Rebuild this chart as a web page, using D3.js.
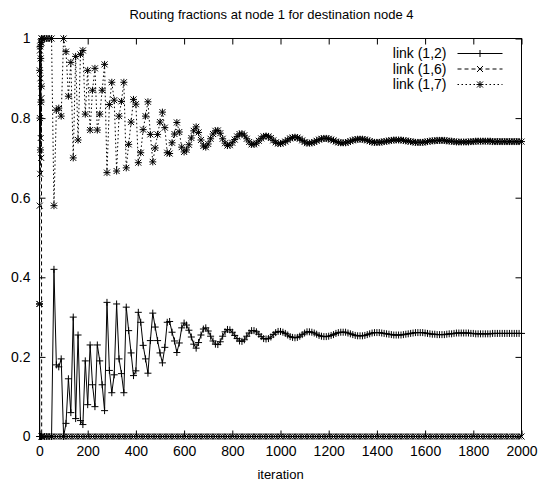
<!DOCTYPE html>
<html>
<head>
<meta charset="utf-8">
<script src="https://cdn.jsdelivr.net/npm/d3@7"></script>
<style>
  body { margin: 0; background: #fff; }
  text { font-family: "Liberation Sans", Arial, Helvetica, sans-serif; fill: #000; }
</style>
</head>
<body>
<div id="chart"></div>
<script>
const chartTitle = "Routing fractions at node 1 for destination node 4";
const xLabel = "iteration";
const seriesNames = ["link (1,2)", "link (1,6)", "link (1,7)"];
const xTicks = [0, 200, 400, 600, 800, 1000, 1200, 1400, 1600, 1800, 2000];
const yTicks = [0, 0.2, 0.4, 0.6, 0.8, 1];

const iterations = [
  0, 1, 2, 3, 4, 5, 6, 7, 8, 9,
  10, 20, 30, 40, 50, 60, 70, 80, 90, 100, 110, 120, 130, 140, 150, 160, 170, 180, 190, 200,
  210, 220, 230, 240, 250, 260, 270, 280, 290, 300, 310, 320, 330, 340, 350, 360, 370, 380, 390, 400,
  410, 420, 430, 440, 450, 460, 470, 480, 490, 500, 510, 520, 530, 540, 550, 560, 570, 580, 590, 600,
  610, 620, 630, 640, 650, 660, 670, 680, 690, 700, 710, 720, 730, 740, 750, 760, 770, 780, 790, 800,
  810, 820, 830, 840, 850, 860, 870, 880, 890, 900, 910, 920, 930, 940, 950, 960, 970, 980, 990, 1000,
  1010, 1020, 1030, 1040, 1050, 1060, 1070, 1080, 1090, 1100, 1110, 1120, 1130, 1140, 1150, 1160, 1170, 1180, 1190, 1200,
  1210, 1220, 1230, 1240, 1250, 1260, 1270, 1280, 1290, 1300, 1310, 1320, 1330, 1340, 1350, 1360, 1370, 1380, 1390, 1400,
  1410, 1420, 1430, 1440, 1450, 1460, 1470, 1480, 1490, 1500, 1510, 1520, 1530, 1540, 1550, 1560, 1570, 1580, 1590, 1600,
  1610, 1620, 1630, 1640, 1650, 1660, 1670, 1680, 1690, 1700, 1710, 1720, 1730, 1740, 1750, 1760, 1770, 1780, 1790, 1800,
  1810, 1820, 1830, 1840, 1850, 1860, 1870, 1880, 1890, 1900, 1910, 1920, 1930, 1940, 1950, 1960, 1970, 1980, 1990, 2000
];

const link12 = [
  0.333, 0, 0, 0, 0, 0, 0, 0, 0, 0,
  0, 0, 0, 0, 0, 0.42, 0.18, 0.175, 0.195, 0.0, 0.033, 0.145, 0.06, 0.30, 0.045, 0.255, 0.04, 0.03, 0.19, 0.08,
  0.23, 0.13, 0.075, 0.23, 0.19, 0.13, 0.065, 0.337, 0.166, 0.11, 0.155, 0.333, 0.195, 0.158, 0.11, 0.325, 0.266, 0.21, 0.153, 0.165,
  0.312, 0.287, 0.229, 0.195, 0.159, 0.241, 0.31, 0.275, 0.241, 0.21, 0.185, 0.224, 0.287, 0.289, 0.262, 0.24, 0.211, 0.235, 0.273, 0.285,
  0.28, 0.267, 0.25, 0.232, 0.222, 0.236, 0.255, 0.27, 0.273, 0.265, 0.252, 0.24, 0.232, 0.231, 0.238, 0.252, 0.263, 0.269, 0.268, 0.262,
  0.254, 0.246, 0.24, 0.239, 0.243, 0.252, 0.26, 0.266, 0.266, 0.263, 0.257, 0.251, 0.246, 0.245, 0.246, 0.25, 0.256, 0.261, 0.264, 0.264,
  0.262, 0.259, 0.255, 0.251, 0.249, 0.248, 0.249, 0.252, 0.256, 0.26, 0.263, 0.263, 0.262, 0.26, 0.257, 0.254, 0.252, 0.251, 0.251, 0.252,
  0.254, 0.256, 0.259, 0.261, 0.262, 0.262, 0.262, 0.26, 0.258, 0.256, 0.254, 0.253, 0.253, 0.253, 0.254, 0.256, 0.258, 0.26, 0.261, 0.261,
  0.261, 0.26, 0.259, 0.258, 0.257, 0.256, 0.255, 0.255, 0.255, 0.255, 0.256, 0.257, 0.258, 0.259, 0.26, 0.261, 0.261, 0.261, 0.261, 0.26,
  0.259, 0.258, 0.257, 0.257, 0.256, 0.256, 0.256, 0.256, 0.257, 0.258, 0.258, 0.259, 0.26, 0.26, 0.26, 0.26, 0.26, 0.26, 0.259, 0.259,
  0.258, 0.258, 0.258, 0.258, 0.258, 0.258, 0.258, 0.259, 0.259, 0.259, 0.259, 0.259, 0.259, 0.259, 0.259, 0.259, 0.259, 0.259, 0.259, 0.259
];

const link16 = [
  0.333, 0.58, 0.97, 0.66, 0.9, 0.75, 0.99, 0.7, 0.85, 0,
  0, 0, 0, 0, 0, 0, 0, 0, 0, 0, 0, 0, 0, 0, 0, 0, 0, 0, 0, 0,
  0, 0, 0, 0, 0, 0, 0, 0, 0, 0, 0, 0, 0, 0, 0, 0, 0, 0, 0, 0,
  0, 0, 0, 0, 0, 0, 0, 0, 0, 0, 0, 0, 0, 0, 0, 0, 0, 0, 0, 0,
  0, 0, 0, 0, 0, 0, 0, 0, 0, 0, 0, 0, 0, 0, 0, 0, 0, 0, 0, 0,
  0, 0, 0, 0, 0, 0, 0, 0, 0, 0, 0, 0, 0, 0, 0, 0, 0, 0, 0, 0,
  0, 0, 0, 0, 0, 0, 0, 0, 0, 0, 0, 0, 0, 0, 0, 0, 0, 0, 0, 0,
  0, 0, 0, 0, 0, 0, 0, 0, 0, 0, 0, 0, 0, 0, 0, 0, 0, 0, 0, 0,
  0, 0, 0, 0, 0, 0, 0, 0, 0, 0, 0, 0, 0, 0, 0, 0, 0, 0, 0, 0,
  0, 0, 0, 0, 0, 0, 0, 0, 0, 0, 0, 0, 0, 0, 0, 0, 0, 0, 0, 0,
  0, 0, 0, 0, 0, 0, 0, 0, 0, 0, 0, 0, 0, 0, 0, 0, 0, 0, 0, 0
];

const link17 = [
  0.333, 0.92, 0.8, 0.98, 0.72, 0.95, 0.84, 0.99, 0.88, 1.0,
  1.0, 1.0, 1.0, 1.0, 1.0, 0.58, 0.82, 0.825, 0.805, 1.0, 0.967, 0.855, 0.94, 0.70, 0.955, 0.745, 0.96, 0.97, 0.81, 0.92,
  0.77, 0.87, 0.925, 0.77, 0.81, 0.87, 0.935, 0.663, 0.834, 0.89, 0.845, 0.667, 0.805, 0.842, 0.89, 0.675, 0.734, 0.79, 0.847, 0.835,
  0.688, 0.713, 0.771, 0.805, 0.841, 0.759, 0.69, 0.725, 0.759, 0.79, 0.815, 0.776, 0.713, 0.711, 0.738, 0.76, 0.789, 0.765, 0.727, 0.715,
  0.72, 0.733, 0.75, 0.768, 0.778, 0.764, 0.745, 0.73, 0.727, 0.735, 0.748, 0.76, 0.768, 0.769, 0.762, 0.748, 0.737, 0.731, 0.732, 0.738,
  0.746, 0.754, 0.76, 0.761, 0.757, 0.748, 0.74, 0.734, 0.734, 0.737, 0.743, 0.749, 0.754, 0.755, 0.754, 0.75, 0.744, 0.739, 0.736, 0.736,
  0.738, 0.741, 0.745, 0.749, 0.751, 0.752, 0.751, 0.748, 0.744, 0.74, 0.737, 0.737, 0.738, 0.74, 0.743, 0.746, 0.748, 0.749, 0.749, 0.748,
  0.746, 0.744, 0.741, 0.739, 0.738, 0.738, 0.738, 0.74, 0.742, 0.744, 0.746, 0.747, 0.747, 0.747, 0.746, 0.744, 0.742, 0.74, 0.739, 0.739,
  0.739, 0.74, 0.741, 0.742, 0.743, 0.744, 0.745, 0.745, 0.745, 0.745, 0.744, 0.743, 0.742, 0.741, 0.74, 0.739, 0.739, 0.739, 0.739, 0.74,
  0.741, 0.742, 0.743, 0.743, 0.744, 0.744, 0.744, 0.744, 0.743, 0.742, 0.742, 0.741, 0.74, 0.74, 0.74, 0.74, 0.74, 0.74, 0.741, 0.741,
  0.742, 0.742, 0.742, 0.742, 0.742, 0.742, 0.742, 0.741, 0.741, 0.741, 0.741, 0.741, 0.741, 0.741, 0.741, 0.741, 0.741, 0.741, 0.741, 0.741
];

const W = 543, H = 483;
const margin = {top: 38.5, right: 21.5, bottom: 46.5, left: 39.5},
  width = W - margin.left - margin.right,
  height = H - margin.top - margin.bottom;

const svg = d3.select("#chart")
  .append("svg")
  .attr("width", W)
  .attr("height", H);

svg.append("text")
  .attr("x", 271.5)
  .attr("y", 19)
  .attr("text-anchor", "middle")
  .style("font-size", "13px")
  .text(chartTitle);

const g = svg.append("g")
  .attr("transform", `translate(${margin.left}, ${margin.top})`);

const x = d3.scaleLinear().domain([0, 2000]).range([0, width]);
const y = d3.scaleLinear().domain([0, 1]).range([height, 0]);

// tick marks on all four sides, pointing inward (gnuplot mirror style)
const tick = 6;
g.append("g").attr("transform", `translate(0, ${height})`)
  .call(d3.axisBottom(x).tickValues(xTicks).tickSize(-tick).tickSizeOuter(0).tickFormat(""));
g.append("g")
  .call(d3.axisTop(x).tickValues(xTicks).tickSize(-tick).tickSizeOuter(0).tickFormat(""));
g.append("g")
  .call(d3.axisLeft(y).tickValues(yTicks).tickSize(-tick).tickSizeOuter(0).tickFormat(""));
g.append("g").attr("transform", `translate(${width}, 0)`)
  .call(d3.axisRight(y).tickValues(yTicks).tickSize(-tick).tickSizeOuter(0).tickFormat(""));
g.selectAll(".domain").remove();
g.selectAll(".tick line").attr("stroke", "#000");

// tick labels
g.append("g").attr("transform", `translate(0, ${height})`)
  .call(d3.axisBottom(x).tickValues(xTicks).tickSize(0).tickPadding(10).tickFormat(d3.format("d")))
  .call(a => a.select(".domain").remove())
  .selectAll("text").style("font-size", "14px").attr("fill", "#000");
g.append("g")
  .call(d3.axisLeft(y).tickValues(yTicks).tickSize(0).tickPadding(9).tickFormat(d => d3.format("")(+d.toFixed(1))))
  .call(a => a.select(".domain").remove())
  .selectAll("text").style("font-size", "14px").attr("fill", "#000");

g.append("text")
  .attr("x", width / 2)
  .attr("y", height + 42)
  .attr("text-anchor", "middle")
  .style("font-size", "13px")
  .text(xLabel);

// frame
g.append("rect")
  .attr("width", width)
  .attr("height", height)
  .attr("fill", "none")
  .attr("stroke", "#000");

const marks = {
  plus: "M-3.5,0H3.5M0,-3.5V3.5",
  cross: "M-3,-3L3,3M-3,3L3,-3",
  star: "M-3.5,0H3.5M0,-3.5V3.5M-3,-3L3,3M-3,3L3,-3"
};

const series = [
  {name: seriesNames[0], values: link12, dash: null, mark: marks.plus},
  {name: seriesNames[1], values: link16, dash: "4,3", mark: marks.cross},
  {name: seriesNames[2], values: link17, dash: "1.5,2.5", mark: marks.star}
];

const line = d3.line()
  .x(d => x(d[0]))
  .y(d => y(d[1]));

series.forEach(s => {
  const pts = iterations.map((it, i) => [it, s.values[i]]);
  g.append("path")
    .datum(pts)
    .attr("fill", "none")
    .attr("stroke", "#000")
    .attr("stroke-width", 1)
    .attr("stroke-dasharray", s.dash)
    .attr("d", line);
  g.append("g")
    .selectAll("path")
    .data(pts)
    .enter()
    .append("path")
      .attr("transform", d => `translate(${x(d[0])}, ${y(d[1])})`)
      .attr("d", s.mark)
      .attr("fill", "none")
      .attr("stroke", "#000")
      .attr("stroke-width", 1);
});

// legend
const legend = g.append("g");
series.forEach((s, i) => {
  const ly = 15 + i * 15.5;
  legend.append("text")
    .attr("x", 407)
    .attr("y", ly)
    .attr("dy", "0.35em")
    .attr("text-anchor", "end")
    .style("font-size", "14px")
    .text(s.name);
  legend.append("line")
    .attr("x1", 418).attr("x2", 463)
    .attr("y1", ly).attr("y2", ly)
    .attr("stroke", "#000")
    .attr("stroke-dasharray", s.dash);
  legend.append("path")
    .attr("transform", `translate(440.5, ${ly})`)
    .attr("d", s.mark)
    .attr("fill", "none")
    .attr("stroke", "#000");
});
</script>
</body>
</html>
